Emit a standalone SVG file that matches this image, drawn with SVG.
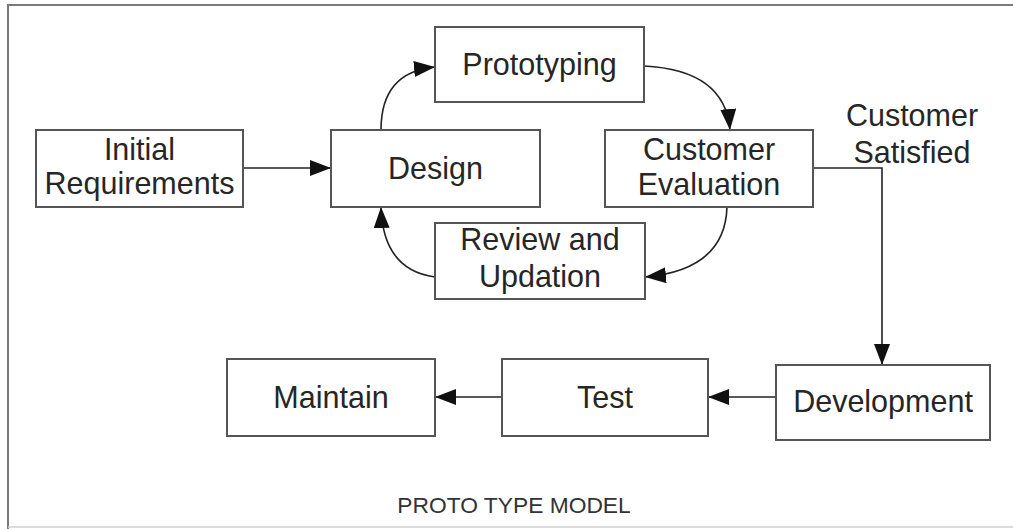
<svg xmlns="http://www.w3.org/2000/svg" width="1013" height="529" viewBox="0 0 1013 529">
<style>
.box{fill:#fff;stroke:#555;stroke-width:2}
.t{font-family:"Liberation Sans",Arial,sans-serif;font-size:30.5px;fill:#262626;text-anchor:middle}
.cap{font-family:"Liberation Sans",Arial,sans-serif;font-size:22.8px;fill:#333;text-anchor:middle}
.c{fill:none;stroke:#222;stroke-width:1.6}
.frame{fill:none;stroke:#7a7a7a;stroke-width:2}
</style>
<defs>
<marker id="ah" markerUnits="userSpaceOnUse" markerWidth="24" markerHeight="18" refX="21" refY="8" orient="auto" viewBox="0 0 24 18">
<path d="M0,0 L21,8 L0,16 z" fill="#111"/>
</marker>
</defs>
<rect width="1013" height="529" fill="#fff"/>
<path class="frame" d="M8,529 L8,5 L1013,5"/>
<path d="M8,527 L1013,527" stroke="#d0d0d0" stroke-width="1.5" fill="none"/>

<g id="connectors">
<path class="c" d="M243,168 L331,168" marker-end="url(#ah)"/>
<path class="c" d="M381,130 Q381,72 435,67" marker-end="url(#ah)"/>
<path class="c" d="M644,66 Q725,70 730,130" marker-end="url(#ah)"/>
<path class="c" d="M727,207 Q725,270 645,277" marker-end="url(#ah)"/>
<path class="c" d="M435,277 Q383,270 381,207" marker-end="url(#ah)"/>
<path class="c" d="M813,168 L882,168 L882,365" marker-end="url(#ah)"/>
<path class="c" d="M776,397 L708,397" marker-end="url(#ah)"/>
<path class="c" d="M502,397 L435,397" marker-end="url(#ah)"/>
</g>

<g id="initial">
<rect class="box" x="36" y="130" width="207" height="77"/>
<text class="t" x="139.5" y="160">Initial</text>
<text class="t" x="139.5" y="194">Requirements</text>
</g>
<g id="design">
<rect class="box" x="331" y="130" width="209" height="77"/>
<text class="t" x="435.5" y="179">Design</text>
</g>
<g id="prototyping">
<rect class="box" x="435" y="27" width="209" height="75"/>
<text class="t" x="539.5" y="75">Prototyping</text>
</g>
<g id="evaluation">
<rect class="box" x="605" y="130" width="208" height="77"/>
<text class="t" x="709" y="160">Customer</text>
<text class="t" x="709" y="195">Evaluation</text>
</g>
<g id="review">
<rect class="box" x="435" y="223" width="210" height="76"/>
<text class="t" x="540" y="250">Review and</text>
<text class="t" x="540" y="287">Updation</text>
</g>
<g id="satisfied-label">
<text class="t" x="912" y="126">Customer</text>
<text class="t" x="912" y="163">Satisfied</text>
</g>
<g id="development">
<rect class="box" x="776" y="365" width="214" height="75"/>
<text class="t" x="883" y="412">Development</text>
</g>
<g id="test">
<rect class="box" x="502" y="359" width="206" height="77"/>
<text class="t" x="605" y="408">Test</text>
</g>
<g id="maintain">
<rect class="box" x="227" y="359" width="208" height="77"/>
<text class="t" x="331" y="408">Maintain</text>
</g>
<text class="cap" x="514" y="513">PROTO TYPE MODEL</text>
</svg>
